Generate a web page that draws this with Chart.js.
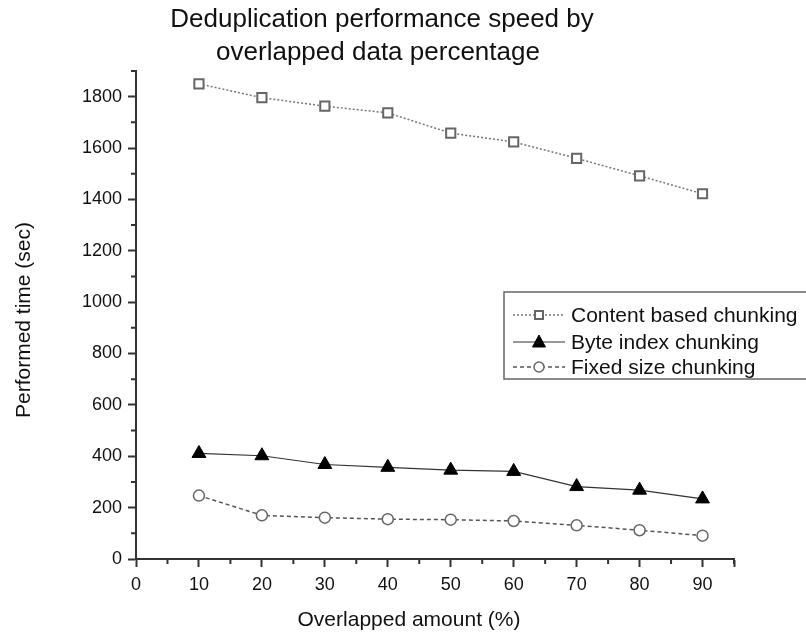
<!DOCTYPE html>
<html>
<head>
<meta charset="utf-8">
<script src="https://cdn.jsdelivr.net/npm/chart.js@4/dist/chart.umd.min.js"></script>
<style>
  html, body { margin: 0; padding: 0; background: #fff; }
  #wrap { width: 806px; height: 636px; }
</style>
</head>
<body>
<div id="wrap"><canvas id="perfChart" width="806" height="636"></canvas></div>
<script>
// data
const overlap = [10, 20, 30, 40, 50, 60, 70, 80, 90];
const contentBased = [1850, 1796, 1763, 1737, 1658, 1624, 1560, 1492, 1422];
const byteIndex = [411, 402, 368, 357, 346, 341, 282, 268, 234];
const fixedSize = [247, 170, 161, 155, 153, 148, 131, 112, 91];
const seriesNames = ['Content based chunking', 'Byte index chunking', 'Fixed size chunking'];
const titleLines = ['Deduplication performance speed by', 'overlapped data percentage'];
const xTitle = 'Overlapped amount (%)';
const yTitle = 'Performed time (sec)';

const FONT = '"Liberation Sans", Arial, sans-serif';
const AXIS = '#333';

function toPts(vals) {
  return vals.map((v, i) => ({ x: overlap[i], y: v }));
}

// titles, minor ticks and the legend box
const decor = {
  id: 'decor',
  afterDraw(chart) {
    const ctx = chart.ctx;
    ctx.save();
    ctx.fillStyle = '#111';
    ctx.textAlign = 'center';
    ctx.textBaseline = 'middle';
    ctx.font = '26px ' + FONT;
    ctx.fillText(titleLines[0], 382, 20);
    ctx.fillText(titleLines[1], 378, 53);

    ctx.font = '21px ' + FONT;
    ctx.fillText(xTitle, 409, 620);
    ctx.save();
    ctx.translate(24, 320);
    ctx.rotate(-Math.PI / 2);
    ctx.fillText(yTitle, 0, 0);
    ctx.restore();

    // minor ticks
    const xs = chart.scales.x, ys = chart.scales.y;
    ctx.strokeStyle = AXIS;
    ctx.lineWidth = 2;
    ctx.beginPath();
    for (let v = 5; v <= 95; v += 10) {
      const px = xs.getPixelForValue(v);
      ctx.moveTo(px, xs.top); ctx.lineTo(px, xs.top + 5);
    }
    for (let v = 100; v <= 1900; v += 200) {
      const py = ys.getPixelForValue(v);
      ctx.moveTo(ys.right, py); ctx.lineTo(ys.right - 5, py);
    }
    ctx.stroke();

    // legend
    ctx.strokeStyle = '#666';
    ctx.lineWidth = 1.5;
    ctx.strokeRect(504, 292, 320, 87);
    const rows = [315, 342, 367];
    chart.data.datasets.forEach((ds, i) => {
      const y = rows[i];
      ctx.strokeStyle = ds.borderColor;
      ctx.lineWidth = ds.borderWidth;
      ctx.setLineDash(ds.borderDash || []);
      ctx.beginPath();
      ctx.moveTo(513, y); ctx.lineTo(565, y);
      ctx.stroke();
      ctx.setLineDash([]);
      ctx.lineWidth = ds.pointBorderWidth;
      ctx.strokeStyle = ds.pointBorderColor;
      ctx.fillStyle = ds.pointBackgroundColor;
      const cx = 539;
      ctx.beginPath();
      if (ds.pointStyle === 'rect') {
        ctx.rect(cx - 4, y - 4, 8, 8);
      } else if (ds.pointStyle === 'triangle') {
        ctx.moveTo(cx, y - 7); ctx.lineTo(cx + 6.5, y + 5); ctx.lineTo(cx - 6.5, y + 5); ctx.closePath();
      } else {
        ctx.arc(cx, y, 5, 0, Math.PI * 2);
      }
      ctx.fill();
      ctx.stroke();
      ctx.fillStyle = '#111';
      ctx.font = '21px ' + FONT;
      ctx.textAlign = 'left';
      ctx.fillText(seriesNames[i], 571, y + 1);
    });
    ctx.restore();
  }
};

new Chart(document.getElementById('perfChart'), {
  type: 'line',
  data: {
    datasets: [
      {
        label: seriesNames[0],
        data: toPts(contentBased),
        borderColor: '#777',
        borderWidth: 1.5,
        borderDash: [2, 2],
        pointStyle: 'rect',
        pointRadius: 6.5,
        pointBorderWidth: 2,
        pointBorderColor: '#666',
        pointBackgroundColor: '#fff'
      },
      {
        label: seriesNames[1],
        data: toPts(byteIndex),
        borderColor: '#333',
        borderWidth: 1.2,
        pointStyle: 'triangle',
        pointRadius: 8,
        pointBorderWidth: 1,
        pointBorderColor: '#000',
        pointBackgroundColor: '#000'
      },
      {
        label: seriesNames[2],
        data: toPts(fixedSize),
        borderColor: '#555',
        borderWidth: 1.5,
        borderDash: [4, 3],
        pointStyle: 'circle',
        pointRadius: 5.5,
        pointBorderWidth: 1.5,
        pointBorderColor: '#666',
        pointBackgroundColor: '#fff'
      }
    ]
  },
  options: {
    responsive: false,
    animation: false,
    layout: { padding: { left: 0, right: 72, top: 71, bottom: 0 } },
    plugins: { legend: { display: false }, title: { display: false }, tooltip: { enabled: false } },
    scales: {
      x: {
        type: 'linear',
        min: 0,
        max: 95,
        ticks: {
          stepSize: 10,
          autoSkip: false,
          color: '#111',
          font: { family: FONT, size: 18 },
          padding: 7,
          maxRotation: 0,
          callback: v => (v % 10 === 0 ? v : '')
        },
        grid: { drawOnChartArea: false, tickLength: 8, tickWidth: 2, tickColor: AXIS },
        border: { color: AXIS, width: 2 },
        afterFit(s) { s.height = 77; }
      },
      y: {
        min: 0,
        max: 1900,
        ticks: {
          stepSize: 200,
          autoSkip: false,
          color: '#111',
          font: { family: FONT, size: 18 },
          padding: 6,
          callback: v => (v % 200 === 0 ? v : '')
        },
        grid: {
          drawOnChartArea: false,
          tickLength: 8,
          tickWidth: 2,
          tickColor: c => (c.tick && c.tick.value % 200 === 0 ? AXIS : 'rgba(0,0,0,0)')
        },
        border: { color: AXIS, width: 2 },
        afterFit(s) { s.width = 136; }
      }
    }
  },
  plugins: [decor]
});
</script>
</body>
</html>
